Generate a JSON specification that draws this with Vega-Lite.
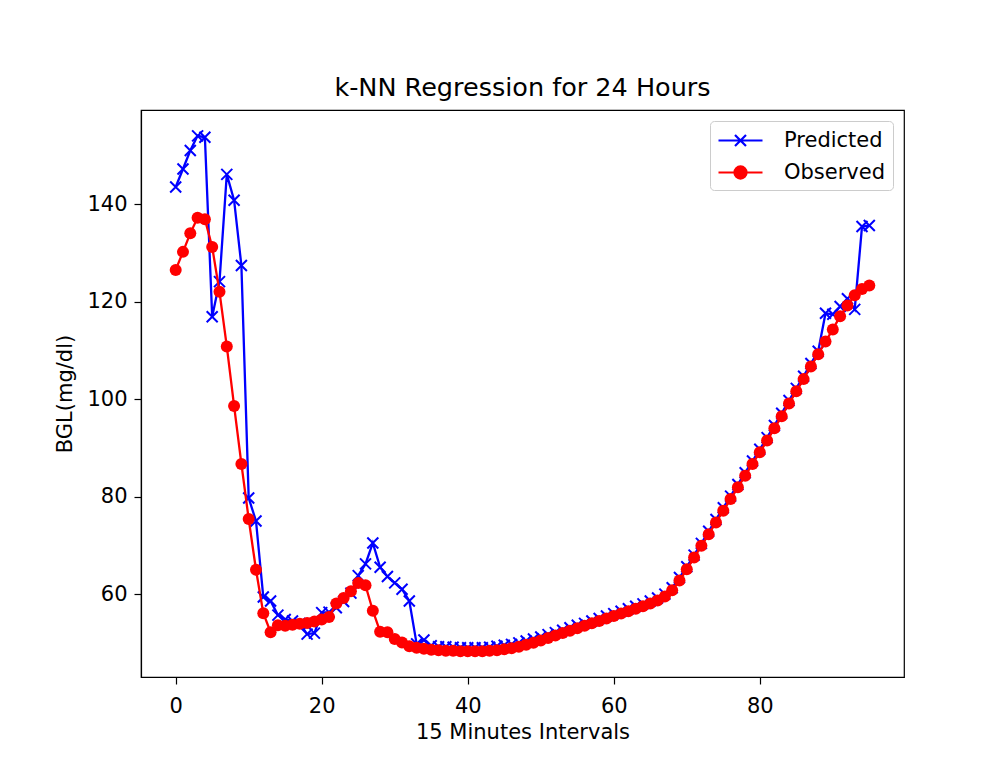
{
  "$schema": "https://vega.github.io/schema/vega-lite/v6.json",
  "width": 763,
  "height": 567,
  "autosize": {"type": "none"},
  "padding": {"left": 141, "top": 110, "right": 99, "bottom": 81},
  "background": "white",
  "config": {
    "font": "DejaVu Sans",
    "view": {"stroke": "#000000", "strokeWidth": 1.2},
    "axis": {
      "grid": false,
      "domainColor": "#000000",
      "domainWidth": 1.2,
      "tickColor": "#000000",
      "tickWidth": 1.2,
      "tickSize": 7,
      "labelFont": "DejaVu Sans",
      "labelFontSize": 21,
      "labelColor": "#000000",
      "titleFont": "DejaVu Sans",
      "titleFontSize": 21,
      "titleFontWeight": "normal",
      "titleColor": "#000000"
    }
  },
  "title": {
    "text": "k-NN Regression for 24 Hours",
    "font": "DejaVu Sans",
    "fontSize": 25.5,
    "fontWeight": "normal",
    "color": "#000000",
    "anchor": "middle",
    "offset": 9
  },
  "data": {
    "values": [
      {"t": 0, "Predicted": 143.5, "Observed": 126.5},
      {"t": 1, "Predicted": 147.2, "Observed": 130.2},
      {"t": 2, "Predicted": 151.0, "Observed": 134.0},
      {"t": 3, "Predicted": 154.0, "Observed": 137.2},
      {"t": 4, "Predicted": 153.7, "Observed": 136.9},
      {"t": 5, "Predicted": 116.9, "Observed": 131.2},
      {"t": 6, "Predicted": 124.1, "Observed": 122.0},
      {"t": 7, "Predicted": 146.1, "Observed": 110.8},
      {"t": 8, "Predicted": 140.8, "Observed": 98.6},
      {"t": 9, "Predicted": 127.4, "Observed": 86.7},
      {"t": 10, "Predicted": 79.7, "Observed": 75.4},
      {"t": 11, "Predicted": 75.0, "Observed": 65.0},
      {"t": 12, "Predicted": 59.4, "Observed": 56.1},
      {"t": 13, "Predicted": 58.6, "Observed": 52.2},
      {"t": 14, "Predicted": 55.7, "Observed": 53.6},
      {"t": 15, "Predicted": 54.8, "Observed": 53.5},
      {"t": 16, "Predicted": 54.5, "Observed": 53.7},
      {"t": 17, "Predicted": 54.0, "Observed": 53.9},
      {"t": 18, "Predicted": 51.8, "Observed": 54.1},
      {"t": 19, "Predicted": 52.0, "Observed": 54.4},
      {"t": 20, "Predicted": 56.2, "Observed": 54.8},
      {"t": 21, "Predicted": 56.3, "Observed": 55.3},
      {"t": 22, "Predicted": 57.2, "Observed": 58.1},
      {"t": 23, "Predicted": 58.5, "Observed": 59.2},
      {"t": 24, "Predicted": 60.2, "Observed": 60.6},
      {"t": 25, "Predicted": 63.8, "Observed": 62.3},
      {"t": 26, "Predicted": 66.2, "Observed": 61.8},
      {"t": 27, "Predicted": 70.5, "Observed": 56.6},
      {"t": 28, "Predicted": 65.5, "Observed": 52.3},
      {"t": 29, "Predicted": 63.6, "Observed": 52.2},
      {"t": 30, "Predicted": 62.3, "Observed": 50.8},
      {"t": 31, "Predicted": 61.0, "Observed": 50.1},
      {"t": 32, "Predicted": 58.6, "Observed": 49.3},
      {"t": 33, "Predicted": 49.8, "Observed": 49.0},
      {"t": 34, "Predicted": 50.6, "Observed": 48.8},
      {"t": 35, "Predicted": 49.4, "Observed": 48.6},
      {"t": 36, "Predicted": 49.2, "Observed": 48.5},
      {"t": 37, "Predicted": 49.2, "Observed": 48.4},
      {"t": 38, "Predicted": 49.1, "Observed": 48.4},
      {"t": 39, "Predicted": 49.0, "Observed": 48.3},
      {"t": 40, "Predicted": 49.0, "Observed": 48.3},
      {"t": 41, "Predicted": 49.0, "Observed": 48.3},
      {"t": 42, "Predicted": 49.0, "Observed": 48.3},
      {"t": 43, "Predicted": 49.1, "Observed": 48.4},
      {"t": 44, "Predicted": 49.3, "Observed": 48.5},
      {"t": 45, "Predicted": 49.5, "Observed": 48.7},
      {"t": 46, "Predicted": 49.7, "Observed": 48.9},
      {"t": 47, "Predicted": 50.0, "Observed": 49.2},
      {"t": 48, "Predicted": 50.4, "Observed": 49.6},
      {"t": 49, "Predicted": 50.8, "Observed": 50.0},
      {"t": 50, "Predicted": 51.2, "Observed": 50.5},
      {"t": 51, "Predicted": 51.7, "Observed": 51.0},
      {"t": 52, "Predicted": 52.1, "Observed": 51.5},
      {"t": 53, "Predicted": 52.6, "Observed": 52.0},
      {"t": 54, "Predicted": 53.1, "Observed": 52.5},
      {"t": 55, "Predicted": 53.6, "Observed": 53.0},
      {"t": 56, "Predicted": 54.0, "Observed": 53.5},
      {"t": 57, "Predicted": 54.5, "Observed": 54.0},
      {"t": 58, "Predicted": 55.0, "Observed": 54.5},
      {"t": 59, "Predicted": 55.5, "Observed": 55.0},
      {"t": 60, "Predicted": 56.0, "Observed": 55.5},
      {"t": 61, "Predicted": 56.5, "Observed": 56.0},
      {"t": 62, "Predicted": 57.0, "Observed": 56.5},
      {"t": 63, "Predicted": 57.5, "Observed": 57.0},
      {"t": 64, "Predicted": 58.0, "Observed": 57.5},
      {"t": 65, "Predicted": 58.6, "Observed": 58.1},
      {"t": 66, "Predicted": 59.2, "Observed": 58.7},
      {"t": 67, "Predicted": 60.0, "Observed": 59.5},
      {"t": 68, "Predicted": 61.3, "Observed": 60.8},
      {"t": 69, "Predicted": 63.4, "Observed": 62.8},
      {"t": 70, "Predicted": 65.6, "Observed": 65.1},
      {"t": 71, "Predicted": 68.0, "Observed": 67.5},
      {"t": 72, "Predicted": 70.4, "Observed": 69.9},
      {"t": 73, "Predicted": 72.9, "Observed": 72.3},
      {"t": 74, "Predicted": 75.3, "Observed": 74.7},
      {"t": 75, "Predicted": 77.7, "Observed": 77.1},
      {"t": 76, "Predicted": 80.1, "Observed": 79.5},
      {"t": 77, "Predicted": 82.5, "Observed": 81.9},
      {"t": 78, "Predicted": 84.9, "Observed": 84.3},
      {"t": 79, "Predicted": 87.3, "Observed": 86.7},
      {"t": 80, "Predicted": 89.7, "Observed": 89.1},
      {"t": 81, "Predicted": 92.1, "Observed": 91.5},
      {"t": 82, "Predicted": 94.6, "Observed": 94.0},
      {"t": 83, "Predicted": 97.1, "Observed": 96.5},
      {"t": 84, "Predicted": 99.7, "Observed": 99.1},
      {"t": 85, "Predicted": 102.2, "Observed": 101.6},
      {"t": 86, "Predicted": 104.7, "Observed": 104.1},
      {"t": 87, "Predicted": 107.3, "Observed": 106.7},
      {"t": 88, "Predicted": 109.8, "Observed": 109.2},
      {"t": 89, "Predicted": 117.6, "Observed": 111.8},
      {"t": 90, "Predicted": 117.4, "Observed": 114.3},
      {"t": 91, "Predicted": 119.0, "Observed": 117.0},
      {"t": 92, "Predicted": 120.6, "Observed": 119.2},
      {"t": 93, "Predicted": 118.4, "Observed": 121.3},
      {"t": 94, "Predicted": 135.4, "Observed": 122.6},
      {"t": 95, "Predicted": 135.6, "Observed": 123.3}
    ]
  },
  "transform": [
    {"fold": ["Predicted", "Observed"], "as": ["series", "bgl"]}
  ],
  "encoding": {
    "x": {
      "field": "t",
      "type": "quantitative",
      "scale": {"domain": [-4.75, 99.75], "nice": false, "zero": false},
      "axis": {"values": [0, 20, 40, 60, 80], "title": "15 Minutes Intervals", "labelPadding": 11, "titlePadding": 5}
    },
    "y": {
      "field": "bgl",
      "type": "quantitative",
      "scale": {"domain": [43.0, 159.3], "nice": false, "zero": false},
      "axis": {"values": [60, 80, 100, 120, 140], "title": "BGL(mg/dl)", "labelPadding": 7, "titlePadding": 11}
    },
    "color": {
      "field": "series",
      "type": "nominal",
      "scale": {"domain": ["Predicted", "Observed"], "range": ["#0000ff", "#ff0000"]},
      "legend": {
        "title": null,
        "orient": "top-right",
        "offset": 11,
        "padding": 7,
        "fillColor": "#ffffff",
        "strokeColor": "#cccccc",
        "cornerRadius": 4,
        "labelFont": "DejaVu Sans",
        "labelFontSize": 21,
        "labelColor": "#000000",
        "labelOffset": 42,
        "rowPadding": 9,
        "symbolSize": 484,
        "symbolStrokeWidth": 2.2,
        "symbolOpacity": 1,
        "encode": {
          "symbols": {
            "update": {
              "shape": {"signal": "datum.value === 'Predicted' ? 'M-1,0L3,0M0.5,-0.5L1.5,0.5M0.5,0.5L1.5,-0.5' : 'M-1,0L3,0M1.55,0A0.55,0.55 0 1,1 0.45,0A0.55,0.55 0 1,1 1.55,0Z'"},
              "fill": {"signal": "datum.value === 'Predicted' ? 'transparent' : '#ff0000'"},
              "stroke": {"signal": "datum.value === 'Predicted' ? '#0000ff' : '#ff0000'"},
              "strokeWidth": {"value": 2.2},
              "opacity": {"value": 1}
            }
          }
        }
      }
    }
  },
  "layer": [
    {
      "transform": [{"filter": "datum.series === 'Predicted'"}],
      "mark": {"type": "line", "strokeWidth": 2.3}
    },
    {
      "transform": [{"filter": "datum.series === 'Predicted'"}],
      "mark": {"type": "point", "shape": "M-1,-1L1,1M-1,1L1,-1", "filled": false, "size": 121, "strokeWidth": 2, "opacity": 1}
    },
    {
      "transform": [{"filter": "datum.series === 'Observed'"}],
      "mark": {"type": "line", "strokeWidth": 2.3}
    },
    {
      "transform": [{"filter": "datum.series === 'Observed'"}],
      "mark": {"type": "point", "shape": "circle", "filled": true, "size": 144, "opacity": 1}
    }
  ]
}
